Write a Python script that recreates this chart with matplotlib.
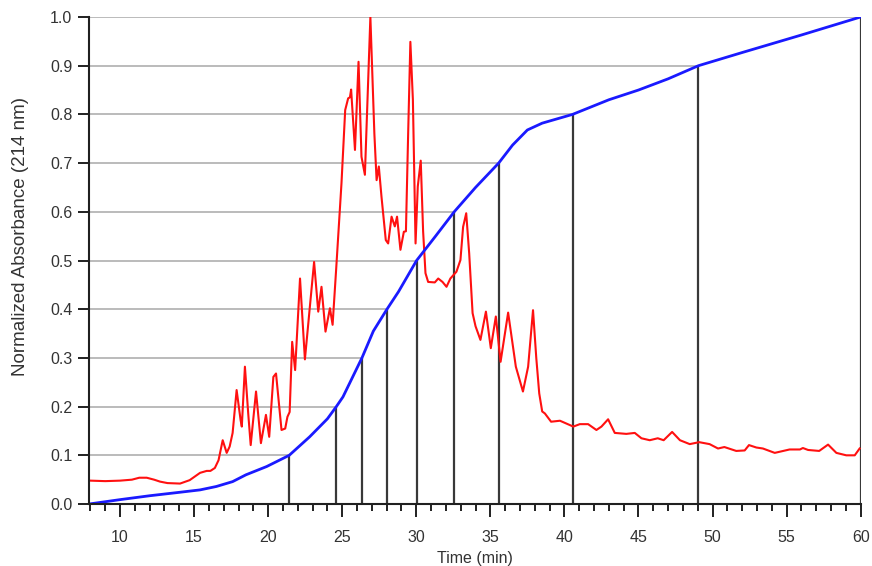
import numpy as np
import matplotlib as mpl
import matplotlib.pyplot as plt
from matplotlib.ticker import MultipleLocator

# gradient (cumulative fraction)
grad_t = [7.9, 10, 12, 14, 15.4, 16.5, 17.6, 18.5, 19.9, 21.42, 22.8, 24.0, 24.6,
          25.05, 26.33, 27.1, 28.02, 28.8, 30.02, 31.3, 32.56, 34.0, 35.56, 36.5,
          37.5, 38.5, 40.55, 43.0, 45.0, 47.0, 49.05, 52.0, 56.0, 60.0]
grad_y = [0.0, 0.009, 0.017, 0.024, 0.029, 0.036, 0.046, 0.06, 0.077, 0.10, 0.138,
          0.175, 0.20, 0.22, 0.30, 0.355, 0.40, 0.436, 0.50, 0.55, 0.60, 0.65, 0.70,
          0.737, 0.768, 0.782, 0.80, 0.83, 0.85, 0.873, 0.90, 0.927, 0.963, 1.0]

# fraction cut points (time, level)
cut_t = [21.42, 24.6, 26.33, 28.02, 30.02, 32.56, 35.56, 40.55, 49.05, 60.0]
cut_y = [0.1, 0.2, 0.3, 0.4, 0.5, 0.6, 0.7, 0.8, 0.9, 1.0]

# absorbance trace at 214 nm
abs_t = [8.0, 9.0, 10.0, 10.8, 11.3, 11.8, 12.3, 12.7, 13.2, 14.05, 14.7, 15.4,
         15.85, 16.1, 16.4, 16.65, 16.93, 17.2, 17.4, 17.6, 17.87, 18.14, 18.22,
         18.43, 18.65, 18.82, 19.18, 19.51, 19.85, 20.07, 20.35, 20.53, 20.9,
         21.15, 21.3, 21.45, 21.62, 21.82, 22.15, 22.48, 23.1, 23.38, 23.6, 23.87,
         24.17, 24.35, 24.6, 24.95, 25.2, 25.4, 25.52, 25.6, 25.86, 26.1, 26.3,
         26.53, 26.9, 27.17, 27.32, 27.47, 27.65, 27.94, 28.1, 28.33, 28.55, 28.7,
         28.93, 29.16, 29.3, 29.45, 29.6, 29.77, 29.95, 30.1, 30.3, 30.46, 30.62,
         30.8, 31.25, 31.48, 31.77, 32.04, 32.3, 32.71, 32.98, 33.16, 33.37, 33.57,
         33.8, 34.0, 34.33, 34.7, 35.03, 35.37, 35.69, 36.2, 36.72, 37.2, 37.55,
         37.88, 38.1, 38.3, 38.5, 38.68, 39.1, 39.7, 40.6, 41.04, 41.6, 42.16,
         42.5, 42.95, 43.4, 44.18, 44.75, 45.2, 45.76, 46.3, 46.7, 47.27, 47.8,
         48.46, 49.1, 49.8, 50.37, 50.8, 51.6, 52.17, 52.46, 52.96, 53.4, 54.2,
         55.2, 55.9, 56.1, 56.45, 57.2, 57.8, 58.36, 59.03, 59.6, 59.93]
abs_y = [0.048, 0.047, 0.048, 0.050, 0.054, 0.054, 0.050, 0.046, 0.043, 0.042,
         0.049, 0.064, 0.068, 0.068, 0.074, 0.090, 0.131, 0.105, 0.118, 0.146,
         0.234, 0.172, 0.159, 0.282, 0.187, 0.121, 0.231, 0.125, 0.183, 0.138,
         0.261, 0.268, 0.152, 0.155, 0.179, 0.189, 0.333, 0.275, 0.463, 0.297,
         0.497, 0.395, 0.446, 0.354, 0.402, 0.368, 0.487, 0.659, 0.809, 0.833,
         0.835, 0.851, 0.727, 0.908, 0.713, 0.676, 1.0, 0.76, 0.665, 0.693, 0.631,
         0.542, 0.535, 0.59, 0.57, 0.59, 0.522, 0.559, 0.56, 0.76, 0.949, 0.83,
         0.535, 0.652, 0.705, 0.56, 0.474, 0.456, 0.455, 0.463, 0.456, 0.446,
         0.463, 0.477, 0.501, 0.569, 0.597, 0.515, 0.392, 0.365, 0.337, 0.395,
         0.32, 0.385, 0.292, 0.393, 0.282, 0.231, 0.282, 0.398, 0.30, 0.227, 0.19,
         0.186, 0.169, 0.171, 0.159, 0.164, 0.164, 0.152, 0.159, 0.174, 0.146,
         0.144, 0.146, 0.135, 0.131, 0.135, 0.131, 0.148, 0.131, 0.123, 0.127,
         0.123, 0.114, 0.117, 0.109, 0.11, 0.121, 0.116, 0.114, 0.105, 0.112,
         0.112, 0.115, 0.111, 0.109, 0.122, 0.105, 0.1, 0.1, 0.114]

xmin, xmax = 7.9, 60.0

mpl.rcParams["font.family"] = ["Liberation Sans", "DejaVu Sans"]


def draw():
    fig = plt.figure(figsize=(8.72, 5.66), dpi=100)
    ax = fig.add_axes([0.102, 0.1095, 0.885, 0.8605])

    # L-shaped guides: horizontal to the gradient curve, then down to the axis
    ax.hlines(cut_y, xmin, cut_t, color="#a8a8a8", lw=1.1, zorder=1)
    ax.vlines(cut_t, 0, cut_y, color="#383838", lw=1.6, zorder=2)

    ax.plot(abs_t, abs_y, color="#ff1010", lw=1.5, zorder=3)
    ax.plot(grad_t, grad_y, color="#1a1aff", lw=2.0, zorder=4)

    ax.set_xlim(xmin, xmax)
    ax.set_ylim(0, 1.0)
    ax.xaxis.set_major_locator(MultipleLocator(5))
    ax.xaxis.set_minor_locator(MultipleLocator(1))
    ax.yaxis.set_major_locator(MultipleLocator(0.1))
    ax.yaxis.set_major_formatter(mpl.ticker.FormatStrFormatter("%.1f"))

    for s in ["top", "right"]:
        ax.spines[s].set_visible(False)
    for s in ["left", "bottom"]:
        ax.spines[s].set_linewidth(1.5)
        ax.spines[s].set_color("#202020")
        ax.spines[s].set_zorder(5)

    ax.tick_params(axis="x", which="major", direction="out", length=9, width=1.4,
                   color="#202020", labelsize=11.5, labelcolor="#333333", pad=10)
    ax.tick_params(axis="x", which="minor", direction="out", length=5, width=1.4,
                   color="#202020")
    ax.tick_params(axis="y", which="major", direction="out", length=8, width=1.4,
                   color="#202020", labelsize=11.5, labelcolor="#333333", pad=4)

    ax.set_xlabel("Time (min)", fontsize=11.5, color="#333333", labelpad=4)
    ax.set_ylabel("Normalized Absorbance (214 nm)", fontsize=13.5, color="#333333")
    ax.yaxis.set_label_coords(-0.078, 0.55)

    fig.savefig("out.png", dpi=100)


if __name__ == "__main__":
    draw()
